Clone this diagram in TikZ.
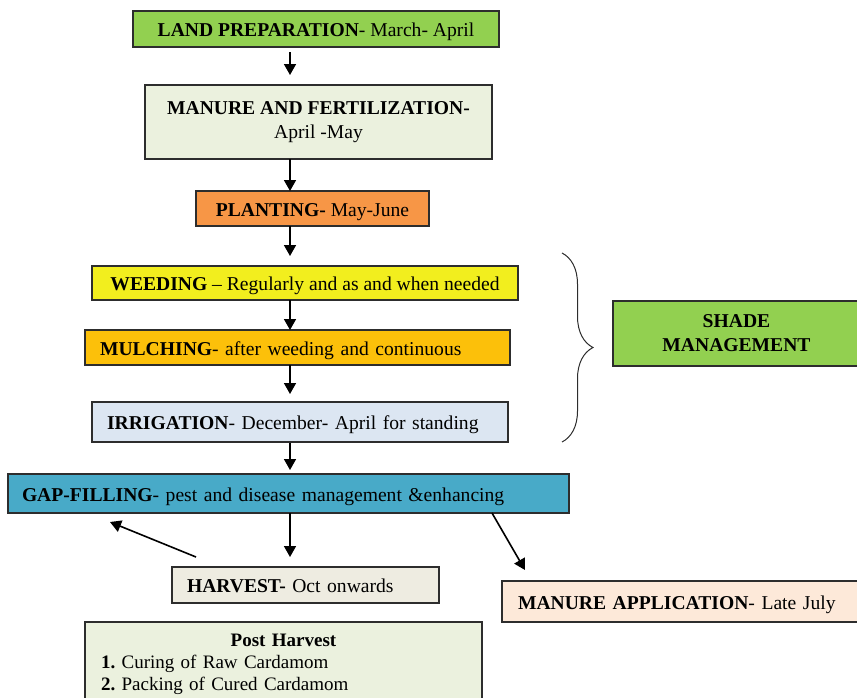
\documentclass[tikz,border=0pt]{standalone}
\usepackage{fontspec}
\setmainfont{Liberation Serif}
\usetikzlibrary{arrows.meta,positioning,decorations.pathreplacing}

\definecolor{landgreen}{RGB}{146,208,80}
\definecolor{paleolive}{RGB}{235,241,222}
\definecolor{plantorange}{RGB}{247,150,70}
\definecolor{weedyellow}{RGB}{242,238,30}
\definecolor{mulchamber}{RGB}{252,192,10}
\definecolor{irrigblue}{RGB}{220,230,242}
\definecolor{gapteal}{RGB}{72,170,200}
\definecolor{harvestgray}{RGB}{238,236,225}
\definecolor{manurepeach}{RGB}{253,233,217}
\definecolor{edgegray}{RGB}{45,45,45}

\frenchspacing
\begin{document}
\begin{tikzpicture}[x=1pt, y=1pt, font=\fontsize{19.6}{24}\selectfont,
    stage/.style={rectangle, draw=edgegray, line width=1.4pt, align=center, inner sep=0pt, outer sep=0pt},
    stageleft/.style={rectangle, draw=edgegray, line width=1.4pt, align=left, inner xsep=15pt, inner ysep=0pt, outer sep=0pt},
    oneline/.style={text height=15pt, text depth=0pt},
    arrow/.style={-{Triangle[length=11pt,width=12pt]}, line width=1.6pt}]

    \useasboundingbox (0,0) rectangle (857,-697);

    \node [stage, oneline, fill=landgreen, minimum width=366pt, minimum height=36pt] (land) at (316,-29) {\textbf{LAND PREPARATION}- March- April};
    \node [stage, fill=paleolive, minimum width=347pt, minimum height=74pt, below=38pt of land, xshift=2.5pt] (manure) {\textbf{MANURE AND FERTILIZATION-}\\April -May};
    \node [stage, oneline, fill=plantorange, minimum width=233pt, minimum height=35pt, below=32pt of manure, xshift=-6pt] (planting) {\textbf{PLANTING-} May-June};
    \node [stage, oneline, fill=weedyellow, minimum width=426pt, minimum height=34pt, below=40pt of planting, xshift=-7.5pt] (weeding) {\textbf{WEEDING} -- Regularly and as and when needed};
    \node [stageleft, oneline, fill=mulchamber, text width=395pt, minimum height=35pt, below=30pt of weeding, xshift=-7.5pt] (mulching) {\textbf{MULCHING}- after weeding and continuous};
    \node [stageleft, oneline, fill=irrigblue, text width=386pt, minimum height=40pt, below=37pt of mulching, xshift=2.5pt] (irrigation) {\textbf{IRRIGATION}- December- April for standing};
    \node [stageleft, oneline, fill=gapteal, text width=533pt, minimum height=39pt, below=32pt of irrigation, xshift=-11.5pt, inner xsep=14pt] (gapfill) {\textbf{GAP-FILLING}- pest and disease management \&enhancing};
    \node [stageleft, oneline, fill=harvestgray, text width=237pt, minimum height=36pt, below=54pt of gapfill, xshift=17pt] (harvest) {\textbf{HARVEST-} Oct onwards};
    \node [stageleft, fill=paleolive, text width=365pt, inner xsep=16pt, inner ysep=12pt, below=19pt of harvest, xshift=-22pt,
           font=\fontsize{19}{22}\selectfont] (post) {\centering\textbf{Post Harvest}\par\raggedright\textbf{1.} Curing of Raw Cardamom\\\textbf{2.} Packing of Cured Cardamom\\[6pt]};
    \node [stageleft, oneline, fill=manurepeach, text width=326pt, inner xsep=16pt, minimum height=41pt] (manureapp) at (681,-601.5) {\textbf{MANURE APPLICATION}- Late July};
    \node [stage, fill=landgreen, minimum width=247pt, minimum height=65pt] (shade) at (736.5,-333.5) {\textbf{SHADE}\\\textbf{MANAGEMENT}};

    % Arrows
    \coordinate (spine) at (290,0);
    \draw [arrow, shorten <=5pt, shorten >=10pt] (land.south -| spine) -- (manure.north -| spine);
    \draw [arrow] (manure.south -| spine) -- (planting.north -| spine);
    \draw [arrow, shorten >=10pt] (planting.south -| spine) -- (weeding.north -| spine);
    \draw [arrow] (weeding.south -| spine) -- (mulching.north -| spine);
    \draw [arrow, shorten >=8pt] (mulching.south -| spine) -- (irrigation.north -| spine);
    \draw [arrow, shorten <=1pt, shorten >=4pt] (irrigation.south -| spine) -- (gapfill.north -| spine);
    \draw [arrow, shorten >=10pt] (gapfill.south -| spine) -- (harvest.north -| spine);
    \draw [arrow] ([shift={(24,10)}]harvest.north west) -- ([shift={(102,-9)}]gapfill.south west);
    \draw [arrow] ([xshift=-77pt]gapfill.south east) -- ([shift={(23,11)}]manureapp.north west);

    % Brace
    \coordinate (bracetop) at (562,-253);
    \coordinate (bracebot) at (562,-442);
    \draw [decorate, decoration={brace, amplitude=31pt}, edgegray, line width=1pt] (bracetop) -- (bracebot);
\end{tikzpicture}
\end{document}
